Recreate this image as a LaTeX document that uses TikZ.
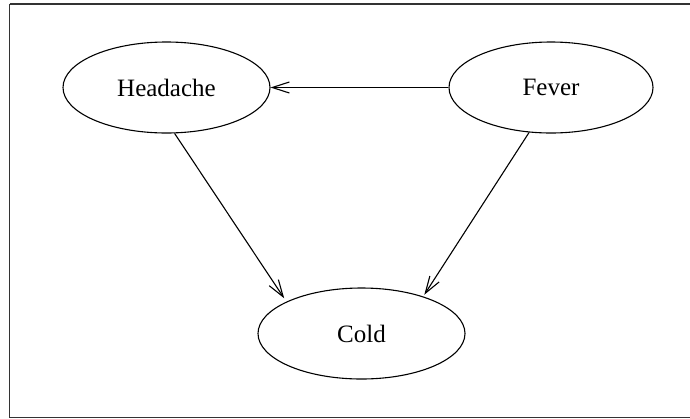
\documentclass[tikz,border=0pt]{standalone}
\usepackage{fontspec}
\setmainfont{Liberation Serif}
\usetikzlibrary{shapes.geometric,arrows.meta}
\begin{document}
\begin{tikzpicture}[x=1pt,y=-1pt,
  var/.style={ellipse,draw,line width=1.1pt,inner sep=0pt,font=\fontsize{25}{29}\selectfont},
  dep/.style={line width=1.1pt,-{Straight Barb[length=17pt,width=11pt,line width=1.1pt]}}]
  \useasboundingbox (0,0) rectangle (690,418);
  % frame (its right side lies outside the page)
  \draw[line width=1.5pt,black!80] (9.5,4) -- (700,4);
  \draw[line width=1.5pt,black!80] (9.5,4) -- (9.5,417.5) -- (700,417.5);
  % variables
  \node[var,minimum width=207pt,minimum height=91pt] (H) at (166.5,87.5) {Headache};
  \node[var,minimum width=204pt,minimum height=91pt] (F) at (551,87.5) {Fever};
  \node[var,minimum width=207pt,minimum height=91pt] (C) at (361.5,333.5) {Cold};
  % dependencies
  \draw[dep,shorten >=4pt] (H.-80) -- (C.157);
  \draw[dep] (F.west) -- (H.east);
  \draw[dep,shorten >=2pt] (F.-116) -- (C.31);
\end{tikzpicture}
\end{document}
